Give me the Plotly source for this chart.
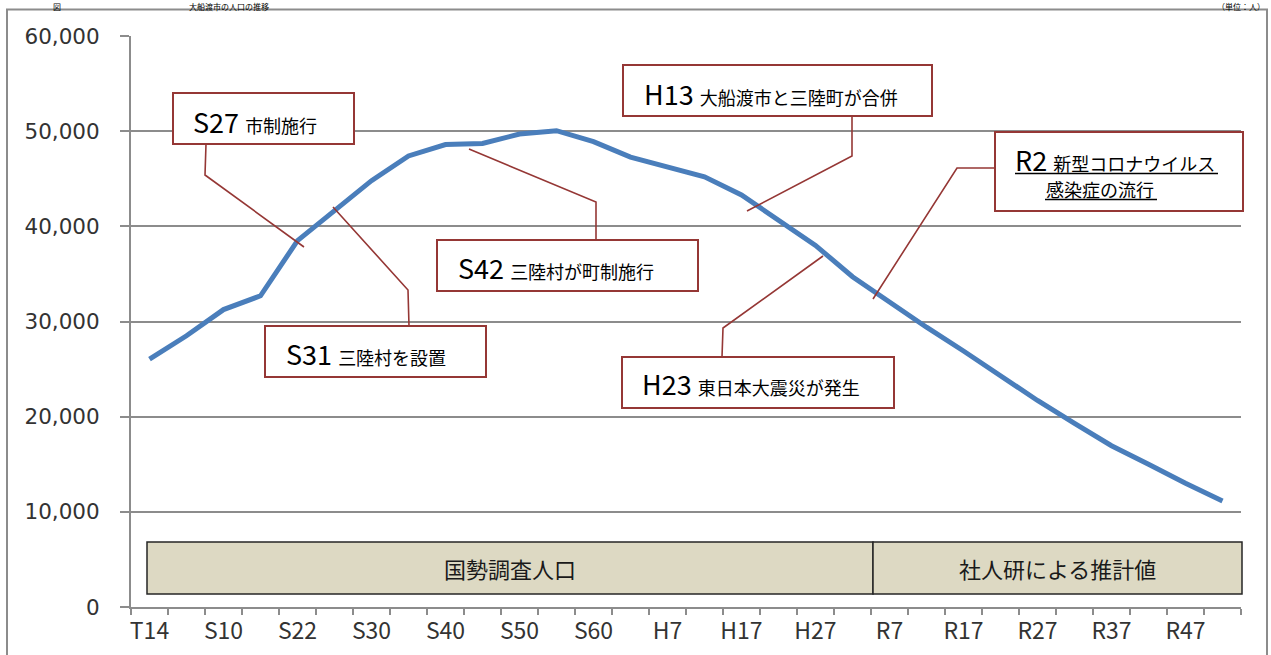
import plotly.graph_objects as go

# ---- data ----
periods = ["T14", "S5", "S10", "S15", "S22", "S25", "S30", "S35", "S40", "S45",
           "S50", "S55", "S60", "H2", "H7", "H12", "H17", "H22", "H27", "R2",
           "R7", "R12", "R17", "R22", "R27", "R32", "R37", "R42", "R47", "R52"]
population = [26050, 28500, 31250, 32700, 38500, 41600, 44800, 47400, 48600, 48700,
              49700, 50050, 48900, 47270, 46250, 45200, 43300, 40700, 38000, 34700,
              32000, 29400, 26900, 24250, 21700, 19300, 16950, 15000, 13000, 11150]
y_ticks = [0, 10000, 20000, 30000, 40000, 50000, 60000]

events = [
    ("S27", "市制施行"),
    ("S31", "三陸村を設置"),
    ("S42", "三陸村が町制施行"),
    ("H13", "大船渡市と三陸町が合併"),
    ("H23", "東日本大震災が発生"),
]
r2_big, r2_line1, r2_line2 = "R2", "新型コロナウイルス", "感染症の流行"
band_labels = ["国勢調査人口", "社人研による推計値"]
header_left = ["図", "大船渡市の人口の推移"]
header_right = "（単位：人）"

# ---- layout geometry (pixels) ----
W_FIG, H_FIG = 1271, 655
L, R, T, B = 131, 1241, 36, 607


def X(px):
    return (px - L) / (R - L)


def Y(py):
    return (B - py) / (B - T)


GRID = "#8C8C8C"
BOX = "#953735"
LAT = "Noto Sans CJK JP"
CJK = "Noto Sans CJK JP"

xidx = list(range(len(periods)))

fig = go.Figure()
fig.add_trace(go.Scatter(
    x=xidx, y=population, mode="lines",
    line=dict(color="#4A7EBB", width=5), hoverinfo="skip", showlegend=False))

shapes = []
annotations = []

# outer frame
shapes.append(dict(type="rect", xref="paper", yref="paper",
                   x0=X(7), x1=X(1267), y0=Y(720), y1=Y(9.5),
                   line=dict(color=GRID, width=2), fillcolor="rgba(0,0,0,0)", layer="below"))

# event boxes: (box x0, y0, x1, y1, text start x, baseline y, leader path points)
box_geo = [
    ((173, 93, 354, 144), (193, 131.5), [(206, 144), (205, 175), (304, 247)]),
    ((265, 326, 486, 377), (286, 363.5), [(409, 326), (408, 290), (333, 207)]),
    ((437, 240, 698, 291), (458, 277), [(596, 240), (596, 202), (469, 149)]),
    ((623, 65, 932, 116), (644, 103), [(852, 116), (852, 156), (747, 211)]),
    ((622, 357, 894, 408), (642, 393.5), [(722, 357), (723, 328), (823, 256)]),
]

for (big, small), ((x0, y0, x1, y1), (tx, ty), pts) in zip(events, box_geo):
    path = "M {} {}".format(X(pts[0][0]), Y(pts[0][1]))
    for p in pts[1:]:
        path += " L {} {}".format(X(p[0]), Y(p[1]))
    shapes.append(dict(type="path", xref="paper", yref="paper", path=path,
                       line=dict(color=BOX, width=1.6), layer="above"))
    shapes.append(dict(type="rect", xref="paper", yref="paper",
                       x0=X(x0), x1=X(x1), y0=Y(y1), y1=Y(y0),
                       line=dict(color=BOX, width=2), fillcolor="white", layer="above"))
    annotations.append(dict(
        xref="paper", yref="paper", x=X(tx - 2), y=Y(ty - 10),
        xanchor="left", yanchor="middle", showarrow=False,
        text=big + "&nbsp;<span style='font-family:" + CJK + ";font-size:18px'>" + small + "</span>",
        font=dict(family=LAT, size=27, color="#000000")))

# R2 box
shapes.append(dict(type="path", xref="paper", yref="paper",
                   path="M {} {} L {} {} L {} {}".format(X(995), Y(168), X(957), Y(168), X(873), Y(299)),
                   line=dict(color=BOX, width=1.6), layer="above"))
shapes.append(dict(type="rect", xref="paper", yref="paper",
                   x0=X(995), x1=X(1243), y0=Y(211), y1=Y(132),
                   line=dict(color=BOX, width=2), fillcolor="white", layer="above"))
annotations.append(dict(
    xref="paper", yref="paper", x=X(1013), y=Y(169 - 10),
    xanchor="left", yanchor="middle", showarrow=False,
    text=r2_big + "&nbsp;<span style='font-family:" + CJK + ";font-size:18px'>" + r2_line1 + "</span>",
    font=dict(family=LAT, size=27, color="#000000")))
annotations.append(dict(
    xref="paper", yref="paper", x=X(1044), y=Y(196 - 7),
    xanchor="left", yanchor="middle", showarrow=False,
    text=r2_line2, font=dict(family=CJK, size=18, color="#000000")))
for ux0, ux1, uy in [(1015, 1218, 173.5), (1045, 1157, 199.5)]:
    shapes.append(dict(type="line", xref="paper", yref="paper",
                       x0=X(ux0), x1=X(ux1), y0=Y(uy), y1=Y(uy),
                       line=dict(color="#000000", width=1.3), layer="above"))

# bands
band_geo = [(147, 873), (873, 1242)]
for (bx0, bx1), lab in zip(band_geo, band_labels):
    shapes.append(dict(type="rect", xref="paper", yref="paper",
                       x0=X(bx0), x1=X(bx1), y0=Y(594), y1=Y(542),
                       line=dict(color="#262626", width=1.5), fillcolor="#DDD9C3", layer="above"))
    annotations.append(dict(
        xref="paper", yref="paper", x=X((bx0 + bx1) / 2), y=Y(568),
        xanchor="center", yanchor="middle", showarrow=False,
        text=lab, font=dict(family=CJK, size=22, color="#1a1a1a")))

# header texts (mostly cropped in the reference; shrunk to fit the top strip)
annotations.append(dict(xref="paper", yref="paper", x=X(52), y=Y(0.5), xanchor="left", yanchor="top",
                        showarrow=False, text=header_left[0], borderpad=0,
                        font=dict(family=CJK, size=8, color="#000")))
annotations.append(dict(xref="paper", yref="paper", x=X(188), y=Y(0.5), xanchor="left", yanchor="top",
                        showarrow=False, text=header_left[1], borderpad=0,
                        font=dict(family=CJK, size=8, color="#000")))
annotations.append(dict(xref="paper", yref="paper", x=X(1266), y=Y(0.5), xanchor="right", yanchor="top",
                        showarrow=False, text=header_right, borderpad=0,
                        font=dict(family=CJK, size=8, color="#000")))

fig.update_layout(
    width=W_FIG, height=H_FIG, autosize=False,
    margin=dict(l=L, r=W_FIG - R, t=T, b=H_FIG - B, pad=0, autoexpand=False),
    paper_bgcolor="white", plot_bgcolor="white",
    shapes=shapes, annotations=annotations, showlegend=False,
    xaxis=dict(range=[-0.5, len(periods) - 0.5], tickmode="array", automargin=False,
               tickvals=xidx[::2], ticktext=periods[::2], ticks="",
               showgrid=False, zeroline=False, showline=True, linecolor=GRID, linewidth=2,
               tickfont=dict(family=LAT, size=23, color="#333333"),
               ticklabelstandoff=2,
               minor=dict(tick0=-0.5, dtick=1, ticks="outside", ticklen=6,
                          tickcolor=GRID, tickwidth=2, showgrid=False)),
    yaxis=dict(range=[0, 60000], tickmode="array", tickvals=y_ticks, automargin=False,
               tickformat=",", ticks="outside", ticklen=9, tickcolor=GRID, tickwidth=2,
               showgrid=True, gridcolor=GRID, gridwidth=2, zeroline=False,
               showline=True, linecolor=GRID, linewidth=2,
               tickfont=dict(family="DejaVu Sans", size=21.5, color="#333333"),
               ticklabelstandoff=16),
)

fig.write_html("out.html", config={"displayModeBar": False}, post_script=(
    "document.body.style.margin='0';document.body.style.padding='0';"
    "document.body.style.overflow='hidden';"))
